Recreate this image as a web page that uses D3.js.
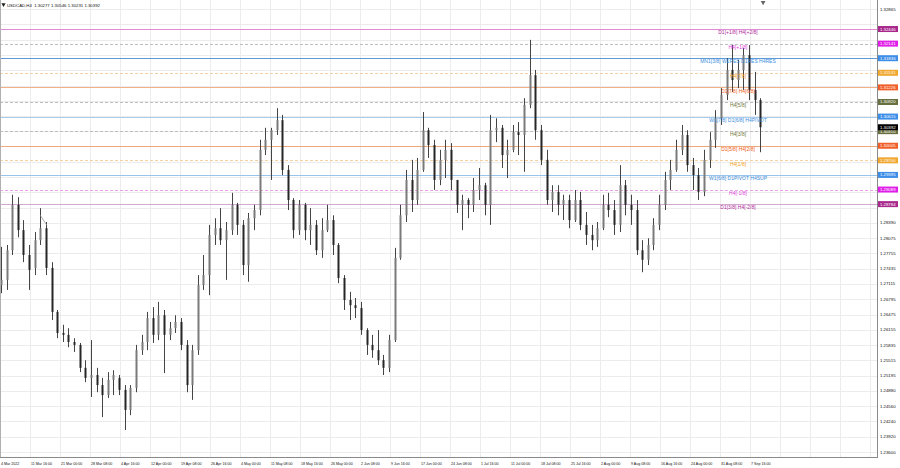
<!DOCTYPE html>
<html><head><meta charset="utf-8">
<script src="https://cdn.jsdelivr.net/npm/d3@7"></script>
<style>html,body{margin:0;padding:0;background:#fff;overflow:hidden}svg{display:block}</style>
</head><body><svg id="c" width="900" height="468"></svg>
<script>
// ---------- DATA ----------
const headerText = "USDCAD,H4  1.30277 1.30546 1.30231 1.30392";
const firstDay = "2022-03-04", lastDay = "2022-09-09";
const open  = [1.2709,1.2720,1.2782,1.2877,1.2824,1.2772,1.2745,1.2803,1.2828,1.2745,1.2653,1.2609,1.2605,1.2590,1.2584,1.2536,1.2515,1.2521,1.2500,1.2479,1.2511,1.2515,1.2490,1.2448,1.2494,1.2573,1.2590,1.2640,1.2605,1.2646,1.2605,1.2619,1.2632,1.2584,1.2500,1.2573,1.2709,1.2730,1.2814,1.2828,1.2803,1.2824,1.2877,1.2835,1.2751,1.2849,1.2866,1.2992,1.3013,1.3033,1.3054,1.2950,1.2887,1.2824,1.2877,1.2824,1.2835,1.2782,1.2824,1.2845,1.2793,1.2724,1.2678,1.2667,1.2661,1.2615,1.2584,1.2573,1.2552,1.2536,1.2594,1.2766,1.2855,1.2929,1.2887,1.2950,1.3033,1.3002,1.2929,1.2971,1.2992,1.2929,1.2877,1.2887,1.2877,1.2908,1.2918,1.2877,1.3033,1.3038,1.2981,1.2992,1.3029,1.3023,1.3086,1.3148,1.3033,1.2971,1.2887,1.2904,1.2877,1.2887,1.2845,1.2887,1.2835,1.2814,1.2803,1.2828,1.2877,1.2866,1.2835,1.2918,1.2877,1.2866,1.2782,1.2762,1.2793,1.2835,1.2877,1.2929,1.2950,1.2992,1.3023,1.2960,1.2939,1.2904,1.2971,1.3013,1.3058,1.3107,1.3159,1.3138,1.3159,1.3190,1.3117,1.3096];
const high  = [1.2789,1.2793,1.2898,1.2893,1.2845,1.2793,1.2820,1.2870,1.2841,1.2757,1.2657,1.2626,1.2619,1.2598,1.2588,1.2552,1.2594,1.2536,1.2515,1.2527,1.2531,1.2521,1.2500,1.2500,1.2584,1.2605,1.2653,1.2663,1.2674,1.2657,1.2632,1.2646,1.2640,1.2594,1.2584,1.2730,1.2772,1.2835,1.2849,1.2870,1.2841,1.2902,1.2881,1.2845,1.2860,1.2877,1.3013,1.3038,1.3038,1.3079,1.3065,1.2960,1.2891,1.2887,1.2881,1.2870,1.2845,1.2849,1.2877,1.2855,1.2797,1.2730,1.2695,1.2682,1.2674,1.2619,1.2605,1.2615,1.2563,1.2605,1.2787,1.2877,1.2950,1.2971,1.2975,1.3071,1.3038,1.3013,1.2992,1.3013,1.3006,1.2929,1.2898,1.2891,1.2933,1.2954,1.2923,1.3065,1.3058,1.3044,1.3013,1.3044,1.3050,1.3100,1.3222,1.3159,1.3044,1.2992,1.2918,1.2918,1.2898,1.2898,1.2908,1.2904,1.2862,1.2835,1.2841,1.2898,1.2902,1.2887,1.2960,1.2929,1.2898,1.2887,1.2803,1.2807,1.2849,1.2898,1.2946,1.2971,1.3013,1.3044,1.3033,1.2975,1.2954,1.2992,1.3029,1.3075,1.3121,1.3184,1.3211,1.3180,1.3205,1.3211,1.3155,1.3100];
const low   = [1.2692,1.2699,1.2772,1.2809,1.2757,1.2699,1.2730,1.2793,1.2730,1.2636,1.2598,1.2590,1.2579,1.2569,1.2527,1.2506,1.2475,1.2485,1.2433,1.2473,1.2479,1.2479,1.2406,1.2437,1.2485,1.2563,1.2573,1.2588,1.2594,1.2525,1.2594,1.2609,1.2573,1.2485,1.2469,1.2563,1.2699,1.2688,1.2793,1.2793,1.2720,1.2814,1.2814,1.2730,1.2716,1.2824,1.2855,1.2981,1.2929,1.3023,1.2939,1.2866,1.2807,1.2814,1.2803,1.2793,1.2772,1.2766,1.2820,1.2772,1.2713,1.2657,1.2636,1.2640,1.2605,1.2563,1.2557,1.2542,1.2521,1.2527,1.2590,1.2762,1.2841,1.2862,1.2877,1.2946,1.2975,1.2908,1.2918,1.2933,1.2908,1.2860,1.2824,1.2849,1.2862,1.2887,1.2855,1.2835,1.3008,1.2954,1.2933,1.2987,1.2981,1.2946,1.3079,1.3013,1.2960,1.2877,1.2862,1.2855,1.2845,1.2828,1.2841,1.2824,1.2793,1.2782,1.2789,1.2824,1.2851,1.2814,1.2820,1.2855,1.2835,1.2772,1.2736,1.2751,1.2782,1.2824,1.2866,1.2908,1.2946,1.2981,1.2946,1.2908,1.2887,1.2895,1.2954,1.2996,1.3044,1.3096,1.3113,1.3121,1.3117,1.3096,1.3065,1.2987];
const close = [1.2720,1.2782,1.2877,1.2824,1.2772,1.2741,1.2803,1.2828,1.2745,1.2653,1.2609,1.2605,1.2590,1.2584,1.2536,1.2515,1.2521,1.2500,1.2479,1.2511,1.2521,1.2490,1.2448,1.2494,1.2573,1.2590,1.2640,1.2605,1.2646,1.2605,1.2619,1.2632,1.2584,1.2500,1.2573,1.2709,1.2730,1.2814,1.2828,1.2803,1.2824,1.2877,1.2835,1.2751,1.2849,1.2866,1.2992,1.3013,1.3033,1.3054,1.2950,1.2887,1.2824,1.2877,1.2824,1.2835,1.2782,1.2824,1.2845,1.2793,1.2724,1.2678,1.2667,1.2661,1.2615,1.2584,1.2573,1.2552,1.2536,1.2594,1.2766,1.2855,1.2929,1.2887,1.2950,1.3033,1.3002,1.2929,1.2971,1.2992,1.2929,1.2877,1.2887,1.2877,1.2908,1.2918,1.2877,1.3033,1.3038,1.2981,1.2992,1.3029,1.3023,1.3086,1.3148,1.3033,1.2971,1.2887,1.2904,1.2877,1.2887,1.2845,1.2887,1.2835,1.2814,1.2803,1.2828,1.2877,1.2866,1.2835,1.2918,1.2877,1.2866,1.2782,1.2762,1.2793,1.2835,1.2877,1.2929,1.2950,1.2992,1.3023,1.2960,1.2939,1.2904,1.2971,1.3013,1.3058,1.3107,1.3159,1.3138,1.3159,1.3190,1.3117,1.3096,1.30392];

const priceTicks = ["1.32865","1.32545","1.32225","1.31905","1.31585","1.31265","1.30945","1.30625","1.30310","1.29990","1.29670","1.29350","1.29030","1.28710","1.28390","1.28075","1.27755","1.27435","1.27115","1.26795","1.26475","1.26155","1.25835","1.25515","1.25195","1.24880","1.24560","1.24240","1.23920","1.23600"];
const timeLabels = ["4 Mar 2022","11 Mar 16:00","21 Mar 00:00","28 Mar 08:00","4 Apr 16:00","12 Apr 00:00","19 Apr 08:00","26 Apr 16:00","4 May 00:00","11 May 08:00","18 May 16:00","26 May 00:00","2 Jun 08:00","9 Jun 16:00","17 Jun 00:00","24 Jun 08:00","1 Jul 16:00","11 Jul 00:00","18 Jul 08:00","25 Jul 16:00","2 Aug 00:00","9 Aug 08:00","16 Aug 16:00","24 Aug 00:00","31 Aug 08:00","7 Sep 16:00"];
const levelValues = [1.32446,1.32141,1.31836,1.31531,1.31226,1.30920,1.30615,1.30310,1.30005,1.29700,1.29395,1.29089,1.28784];
const levelLabels = ["D1[+1/8] H4[+2/8]","H4[+1/8]","MN1[3/8] W1RES D1RES H4RES","H4[7/8]","D1[7/8] H4[6/8]","H4[5/8]","W1[7/8] D1[6/8] H4PIVOT","H4[3/8]","D1[5/8] H4[2/8]","H4[1/8]","W1[6/8] D1PIVOT H4SUP","H4[-1/8]","D1[3/8] H4[-2/8]"];
const levelKinds = ["purple","magenta","blue","orange","red","olive","blue","olive","red","orange","blue","magenta","purple"];
const bidPrice = 1.30392;
// small trend-line object drawn on the chart (bar index, price)
const objectLine = [[45, 1.2855], [52, 1.2834]];

// ---------- STYLE ----------
const kindStyle = {
  purple: {text:"#b0289a", box:"#a8288c"},
  magenta:{text:"#e040e0", box:"#e020e8"},
  blue:   {text:"#3c8ee0", box:"#3c8ee8"},
  orange: {text:"#f0a020", box:"#f0a830"},
  red:    {text:"#f06020", box:"#f06028"},
  olive:  {text:"#6e7838", box:"#687040"}
};
const levelLineColor = ["#e28ad2","#bdbdbd","#5c9ad8","#f2cfa8","#f0b088","#bdbdbd","#a8ccec","#bdbdbd","#f0a878","#f6d0a0","#98c4ec","#e8a0e8","#d0a8d0"];
const levelLineDash  = [null,"3,2",null,"3,2",null,"3,2",null,"3,2",null,"3,2",null,"3,2",null];
const W = 900, H = 468, plotR = 877, plotB = 457;
const FONT = "Liberation Sans, Arial, sans-serif";

const svg = d3.select("#c");
const y = d3.scaleLinear().domain([1.32865, 1.23600]).range([9, 452]);
// x over H4 bar index counted from 4 Mar 2022 00:00 (6 bars per trading day)
const x = d3.scaleLinear().domain([2, 962]).range([0, 900]);

const days = d3.timeDay.range(new Date(firstDay+"T00:00"), d3.timeDay.offset(new Date(lastDay+"T00:00"),1))
  .filter(d => d.getDay() !== 0 && d.getDay() !== 6);
const data = days.map((d,i)=>({d, i, o:open[i], h:high[i], l:low[i], c:close[i]}));

svg.append("rect").attr("width",W).attr("height",H).attr("fill","#fff");

const defs = svg.append("defs");
defs.append("clipPath").attr("id","plot").append("rect").attr("x",0).attr("y",0).attr("width",plotR).attr("height",plotB);
const plot = svg.append("g").attr("clip-path","url(#plot)");

// grid
plot.append("g").selectAll("line").data(priceTicks).join("line")
  .attr("x1",0).attr("x2",plotR)
  .attr("y1",d=>Math.round(y(+d))+0.5).attr("y2",d=>Math.round(y(+d))+0.5)
  .attr("stroke","#ececec").attr("stroke-width",1);
const tIdx = timeLabels.map((t,k)=>2+32*k);
const gridIdx = d3.range(0,30).map(k=>2+32*k);
plot.append("g").selectAll("line").data(gridIdx).join("line")
  .attr("x1",d=>Math.round(x(d))+0.5).attr("x2",d=>Math.round(x(d))+0.5)
  .attr("y1",0).attr("y2",plotB)
  .attr("stroke","#ececec").attr("stroke-width",1);

// level lines
plot.append("g").selectAll("line").data(levelValues).join("line")
  .attr("x1",0).attr("x2",plotR)
  .attr("y1",d=>Math.round(y(d))+0.5).attr("y2",d=>Math.round(y(d))+0.5)
  .attr("stroke",(d,i)=>levelLineColor[i])
  .attr("stroke-dasharray",(d,i)=>levelLineDash[i])
  .attr("stroke-width",1);

// candles
const cx = d => x(6*d.i+3);
const cg = plot.append("g");
cg.selectAll("line.w").data(data).join("line").attr("class","w")
  .attr("x1",d=>Math.round(cx(d))+0.5).attr("x2",d=>Math.round(cx(d))+0.5)
  .attr("y1",d=>y(d.h)).attr("y2",d=>y(d.l))
  .attr("stroke","#444").attr("stroke-width",1);
cg.selectAll("rect").data(data).join("rect")
  .attr("x",d=>Math.round(cx(d))-0.5).attr("width",2)
  .attr("y",d=>Math.min(y(d.o),y(d.c)))
  .attr("height",d=>Math.max(1,Math.abs(y(d.o)-y(d.c))))
  .attr("fill",d=>d.c>=d.o?"#7a7a7a":"#262626");

// small object line
plot.append("path").attr("d",d3.line().x(d=>x(d[0])).y(d=>y(d[1]))(objectLine))
  .attr("stroke","#999").attr("stroke-width",0.8).attr("fill","none");

// level texts
plot.append("g").selectAll("text").data(levelValues).join("text")
  .attr("x",738).attr("y",d=>y(d)+5.2)
  .attr("text-anchor","middle")
  .attr("font-family",FONT).attr("font-size",5)
  .attr("fill",(d,i)=>kindStyle[levelKinds[i]].text)
  .text((d,i)=>levelLabels[i]);

// chart shift marker
svg.append("path").attr("d",d3.symbol(d3.symbolTriangle,10)()).attr("transform",`translate(${x(6*135+6)},2.5) rotate(180)`).attr("fill","#666");

// borders
svg.append("line").attr("x1",plotR+0.5).attr("x2",plotR+0.5).attr("y1",0).attr("y2",plotB+1).attr("stroke","#8a8a8a");
svg.append("line").attr("x1",0).attr("x2",plotR+1).attr("y1",plotB+0.5).attr("y2",plotB+0.5).attr("stroke","#8a8a8a");
svg.append("line").attr("x1",0.5).attr("x2",0.5).attr("y1",0).attr("y2",plotB).attr("stroke","#b0b0b0");

// price axis labels (those hidden behind level boxes are not shown, as on the reference)
const boxes = levelValues.map((v,i)=>({v, fill:kindStyle[levelKinds[i]].box, t:"#fff"}));
boxes.push({v:bidPrice, fill:"#000", t:"#fff"});
const visibleTicks = priceTicks.filter(t => boxes.every(b => Math.abs(y(+t)-y(b.v)) > 6.5));
svg.append("g").selectAll("text").data(visibleTicks).join("text")
  .attr("x",880).attr("y",d=>y(+d)+1.5)
  .attr("font-family",FONT).attr("font-size",4.3).attr("fill","#111")
  .text(d=>d);

// level price boxes
const bx = svg.append("g").selectAll("g").data(boxes).join("g").attr("transform",d=>`translate(878,${y(d.v)})`);
bx.append("rect").attr("x",0).attr("y",-3).attr("width",20).attr("height",6).attr("fill",d=>d.fill);
bx.append("text").attr("x",2).attr("y",1.5).attr("font-family",FONT).attr("font-size",4.3).attr("fill",d=>d.t).text(d=>d.v.toFixed(5));

// time labels
svg.append("g").selectAll("text").data(timeLabels).join("text")
  .attr("x",(d,k)=>x(tIdx[k])+1).attr("y",465)
  .attr("font-family",FONT).attr("font-size",3.6).attr("fill","#111")
  .text(d=>d);

// header
svg.append("path").attr("d",d3.symbol(d3.symbolTriangle,8)()).attr("transform","translate(3.5,4.5) rotate(180)").attr("fill","#222");
svg.append("text").attr("x",7).attr("y",6.5)
  .attr("font-family",FONT).attr("font-size",4.3).attr("fill","#111")
  .attr("xml:space","preserve").text(headerText);
</script></body></html>
